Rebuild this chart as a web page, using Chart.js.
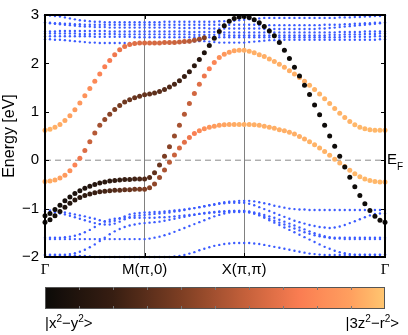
<!DOCTYPE html>
<html>
<head>
<meta charset="utf-8">
<script src="https://cdn.jsdelivr.net/npm/chart.js@4.4.1/dist/chart.umd.min.js"></script>
<style>
  html, body { margin: 0; padding: 0; background: #fff; }
  #wrap { width: 408px; height: 335px; }
</style>
</head>
<body>
<div id="wrap"><canvas id="bands" width="408" height="335"></canvas></div>
<script>
// k path Γ -> M(π,0) -> X(π,π) -> Γ, in units of π/a along the path
const kPath = [
  0, 0.05, 0.1, 0.15, 0.2, 0.25, 0.3, 0.35, 0.4, 0.45, 0.5, 0.55, 0.6, 0.65, 0.7, 0.75, 0.8, 0.85, 0.9, 0.95, 1.0,
  1.05, 1.1, 1.15, 1.2, 1.25, 1.3, 1.35, 1.4, 1.45, 1.5, 1.55, 1.6, 1.65, 1.7, 1.75, 1.8, 1.85, 1.9, 1.95, 2.0,
  2.0505, 2.101, 2.1515, 2.202, 2.2525, 2.303, 2.3535, 2.404, 2.4545, 2.505, 2.5555, 2.606, 2.6565, 2.707,
  2.7575, 2.808, 2.8585, 2.909, 2.9595, 3.0101, 3.0606, 3.1111, 3.1616, 3.2121, 3.2626, 3.3131, 3.3636, 3.4142
]
const kTickPos = [0, 1, 2, 3.4142]
const kTickLabels = ['Γ', 'M(π,0)', 'X(π,π)', 'Γ']
const energyTicks = [-2, -1, 0, 1, 2, 3]
const orbitalLabels = ['|x²−y²>', '|3z²−r²>']
const fermiLabel = ['E', 'F']

// e_g bands with orbital weight (0 = x2-y2, 1 = 3z2-r2)
const bandA = [
  -1.15, -1.1, -1.02, -0.93, -0.84, -0.76, -0.69, -0.63, -0.58, -0.54, -0.5, -0.47, -0.45, -0.43, -0.42, -0.41, -0.4, -0.4, -0.39, -0.39, -0.39,
  -0.36, -0.26, -0.1, 0.08, 0.28, 0.5, 0.72, 0.95, 1.17, 1.38, 1.57, 1.74, 1.89, 2.02, 2.12, 2.19, 2.23, 2.26, 2.27, 2.27,
  2.25, 2.22, 2.18, 2.14, 2.09, 2.04, 1.98, 1.92, 1.85, 1.78, 1.71, 1.63, 1.55, 1.46, 1.37, 1.27, 1.17, 1.07, 0.97, 0.88, 0.8, 0.73, 0.68, 0.65, 0.63, 0.62, 0.62, 0.62
]
const weightA = [
  0.02, 0.02, 0.03, 0.04, 0.05, 0.06, 0.07, 0.08, 0.09, 0.1, 0.11, 0.12, 0.14, 0.15, 0.17, 0.18, 0.2, 0.21, 0.23, 0.25, 0.27,
  0.29, 0.32, 0.35, 0.39, 0.43, 0.47, 0.51, 0.55, 0.59, 0.63, 0.67, 0.71, 0.75, 0.79, 0.83, 0.86, 0.89, 0.91, 0.93, 0.94,
  0.94, 0.94, 0.94, 0.94, 0.94, 0.94, 0.94, 0.94, 0.94, 0.94, 0.94, 0.94, 0.95, 0.95, 0.95, 0.95, 0.95, 0.95, 0.95, 0.95, 0.95, 0.96, 0.96, 0.96, 0.96, 0.96, 0.96, 0.96
]
const bandB = [
  -1.28, -1.23, -1.15, -1.06, -0.97, -0.89, -0.82, -0.77, -0.73, -0.7, -0.67, -0.65, -0.64, -0.63, -0.62, -0.62, -0.61, -0.61, -0.6, -0.6, -0.6,
  -0.57, -0.49, -0.36, -0.2, -0.04, 0.11, 0.25, 0.37, 0.47, 0.55, 0.61, 0.65, 0.68, 0.7, 0.72, 0.73, 0.74, 0.74, 0.74, 0.74,
  0.74, 0.73, 0.72, 0.7, 0.68, 0.66, 0.63, 0.61, 0.58, 0.54, 0.49, 0.44, 0.38, 0.32, 0.25, 0.18, 0.1, 0.02, -0.06, -0.13, -0.21, -0.28, -0.34, -0.39, -0.42, -0.44, -0.45, -0.45
]
const weightB = [
  0.02, 0.03, 0.04, 0.06, 0.08, 0.1, 0.12, 0.14, 0.16, 0.18, 0.2, 0.22, 0.24, 0.26, 0.28, 0.3, 0.32, 0.34, 0.36, 0.38, 0.4,
  0.42, 0.45, 0.48, 0.52, 0.56, 0.6, 0.64, 0.68, 0.72, 0.76, 0.8, 0.83, 0.86, 0.88, 0.9, 0.91, 0.92, 0.93, 0.94, 0.94,
  0.94, 0.94, 0.94, 0.94, 0.94, 0.94, 0.94, 0.94, 0.94, 0.94, 0.94, 0.94, 0.95, 0.95, 0.95, 0.95, 0.95, 0.95, 0.95, 0.95, 0.95, 0.96, 0.96, 0.96, 0.96, 0.96, 0.96, 0.96
]
const bandC = [
  -0.44, -0.43, -0.41, -0.37, -0.31, -0.22, -0.1, 0.04, 0.2, 0.38, 0.56, 0.72, 0.84, 0.95, 1.05, 1.13, 1.2, 1.25, 1.29, 1.32, 1.35,
  1.37, 1.39, 1.42, 1.46, 1.51, 1.57, 1.64, 1.73, 1.83, 1.95, 2.08, 2.22, 2.37, 2.52, 2.66, 2.78, 2.87, 2.93, 2.96, 2.97,
  2.95, 2.9, 2.84, 2.76, 2.67, 2.57, 2.43, 2.27, 2.1, 1.92, 1.74, 1.55, 1.36, 1.14, 0.94, 0.72, 0.5, 0.29, 0.08, -0.14, -0.35, -0.55, -0.73, -0.9, -1.04, -1.16, -1.24, -1.28
]
const weightC = [
  0.94, 0.93, 0.92, 0.9, 0.87, 0.83, 0.78, 0.72, 0.66, 0.6, 0.55, 0.5, 0.46, 0.43, 0.4, 0.38, 0.36, 0.35, 0.34, 0.33, 0.33,
  0.32, 0.31, 0.3, 0.29, 0.27, 0.25, 0.23, 0.2, 0.17, 0.14, 0.11, 0.08, 0.06, 0.05, 0.04, 0.03, 0.02, 0.02, 0.01, 0.01,
  0.01, 0.01, 0.01, 0.01, 0.01, 0.01, 0.01, 0.01, 0.01, 0.01, 0.01, 0.01, 0.01, 0.01, 0.01, 0.01, 0.01, 0.01, 0.01, 0.01, 0.01, 0.01, 0.01, 0.01, 0.02, 0.02, 0.02, 0.02
]
const bandD = [
  0.62, 0.64, 0.68, 0.74, 0.82, 0.92, 1.04, 1.18, 1.33, 1.48, 1.63, 1.78, 1.93, 2.06, 2.18, 2.28, 2.35, 2.39, 2.41, 2.42, 2.42,
  2.42, 2.42, 2.42, 2.43, 2.43, 2.43, 2.44, 2.45, 2.46, 2.48, 2.5, 2.53, null, null, null, null, null, null, null, null,
  null, null, null, null, null, null, null, null, null, null, null, null, null, null, null, null, null, null, null, null, null, null, null, null, null, null, null, null
]
const weightD = [
  0.95, 0.95, 0.94, 0.93, 0.92, 0.9, 0.88, 0.86, 0.84, 0.82, 0.8, 0.78, 0.76, 0.74, 0.72, 0.7, 0.69, 0.68, 0.67, 0.66, 0.65,
  0.65, 0.64, 0.64, 0.63, 0.62, 0.61, 0.6, 0.58, 0.56, 0.53, 0.48, 0.4, null, null, null, null, null, null, null, null,
  null, null, null, null, null, null, null, null, null, null, null, null, null, null, null, null, null, null, null, null, null, null, null, null, null, null, null, null
]

// other bands (blue)
const bandU1 = [
  2.99, 2.99, 2.98, 2.97, 2.95, 2.93, 2.91, 2.89, 2.88, 2.87, 2.86, 2.86, 2.85, 2.85, 2.85, 2.85, 2.85, 2.85, 2.85, 2.85, 2.85,
  2.85, 2.85, 2.85, 2.86, 2.86, 2.86, 2.86, 2.86, 2.86, 2.86, 2.86, 2.86, 2.86, 2.86, 2.87, 2.87, 2.88, 2.88, 2.89, 2.9,
  2.91, 2.92, 2.93, 2.94, 2.94, 2.94, 2.94, 2.94, 2.94, 2.94, 2.94, 2.94, 2.94, 2.94, 2.94, 2.94, 2.94, 2.94, 2.95, 2.95, 2.95, 2.96, 2.96, 2.97, 2.97, 2.98, 2.98, 2.99
]
const bandU2 = [
  2.84, 2.84, 2.83, 2.83, 2.82, 2.82, 2.81, 2.81, 2.8, 2.8, 2.8, 2.8, 2.8, 2.8, 2.8, 2.8, 2.8, 2.8, 2.8, 2.8, 2.8,
  2.8, 2.8, 2.8, 2.8, 2.8, 2.8, 2.8, 2.8, 2.8, 2.8, 2.8, 2.8, 2.8, 2.8, 2.8, 2.8, 2.8, 2.8, 2.8, 2.8,
  2.8, 2.8, 2.79, 2.79, 2.79, 2.79, 2.79, 2.79, 2.79, 2.79, 2.79, 2.79, 2.79, 2.79, 2.79, 2.8, 2.8, 2.8, 2.8, 2.81, 2.81, 2.82, 2.82, 2.83, 2.83, 2.84, 2.84, 2.84
]
const bandU3 = [
  2.84, 2.83, 2.82, 2.81, 2.8, 2.79, 2.78, 2.77, 2.76, 2.76, 2.75, 2.75, 2.75, 2.74, 2.74, 2.74, 2.74, 2.74, 2.74, 2.74, 2.74,
  2.74, 2.74, 2.74, 2.74, 2.74, 2.74, 2.73, 2.73, 2.73, 2.73, 2.73, 2.73, 2.72, 2.72, 2.72, 2.72, 2.72, 2.72, 2.72, 2.72,
  2.72, 2.72, 2.72, 2.71, 2.71, 2.71, 2.71, 2.71, 2.71, 2.71, 2.71, 2.71, 2.71, 2.71, 2.72, 2.72, 2.73, 2.74, 2.75, 2.76, 2.77, 2.78, 2.79, 2.8, 2.81, 2.82, 2.83, 2.84
]
const bandU4 = [
  2.66, 2.66, 2.66, 2.67, 2.67, 2.67, 2.67, 2.67, 2.67, 2.67, 2.67, 2.67, 2.67, 2.66, 2.66, 2.66, 2.66, 2.66, 2.66, 2.66, 2.66,
  2.66, 2.66, 2.66, 2.66, 2.66, 2.66, 2.66, 2.66, 2.65, 2.65, 2.65, 2.65, 2.65, 2.65, 2.65, 2.64, 2.64, 2.64, 2.64, 2.64,
  2.64, 2.64, 2.64, 2.64, 2.64, 2.64, 2.64, 2.64, 2.64, 2.64, 2.64, 2.64, 2.64, 2.64, 2.64, 2.64, 2.64, 2.64, 2.65, 2.65, 2.65, 2.65, 2.65, 2.66, 2.66, 2.66, 2.66, 2.66
]
const bandU5 = [
  2.62, 2.62, 2.62, 2.62, 2.62, 2.62, 2.62, 2.61, 2.61, 2.61, 2.61, 2.61, 2.61, 2.61, 2.61, 2.6, 2.6, 2.6, 2.6, 2.6, 2.6,
  2.6, 2.6, 2.6, 2.6, 2.6, 2.6, 2.6, 2.6, 2.6, 2.59, 2.59, 2.59, 2.59, 2.59, 2.59, 2.59, 2.58, 2.58, 2.58, 2.58,
  2.58, 2.58, 2.58, 2.58, 2.58, 2.58, 2.58, 2.58, 2.58, 2.58, 2.58, 2.58, 2.58, 2.58, 2.58, 2.58, 2.59, 2.59, 2.59, 2.6, 2.6, 2.6, 2.6, 2.61, 2.61, 2.61, 2.62, 2.62
]
const bandU6 = [
  2.56, 2.56, 2.56, 2.56, 2.56, 2.56, 2.56, 2.56, 2.56, 2.56, 2.55, 2.55, 2.55, 2.55, 2.55, 2.55, 2.55, 2.55, 2.54, 2.54, 2.54,
  2.54, 2.54, 2.54, 2.54, 2.54, 2.54, 2.54, 2.54, 2.54, 2.54, 2.54, 2.54, 2.54, 2.54, 2.54, 2.54, 2.54, 2.54, 2.54, 2.54,
  2.54, 2.54, 2.54, 2.54, 2.54, 2.54, 2.54, 2.54, 2.54, 2.54, 2.54, 2.54, 2.54, 2.54, 2.54, 2.54, 2.54, 2.54, 2.54, 2.55, 2.55, 2.55, 2.55, 2.55, 2.55, 2.56, 2.56, 2.56
]
const bandU7 = [
  2.5, 2.5, 2.49, 2.49, 2.48, 2.47, 2.46, 2.45, 2.44, 2.43, 2.43, 2.42, 2.42, 2.42, 2.42, 2.42, 2.42, 2.42, 2.42, 2.42, 2.42,
  2.42, 2.42, 2.42, 2.42, 2.42, 2.43, 2.43, 2.43, 2.44, 2.45, 2.46, 2.46, 2.45, 2.44, 2.43, 2.43, 2.43, 2.43, 2.43, 2.43,
  2.44, 2.45, 2.46, 2.47, 2.48, 2.48, 2.49, 2.49, 2.49, 2.49, 2.49, 2.49, 2.49, 2.49, 2.49, 2.49, 2.49, 2.49, 2.49, 2.49, 2.49, 2.49, 2.49, 2.49, 2.49, 2.49, 2.5, 2.5
]
const bandL1 = [
  -1.03, -1.04, -1.05, -1.06, -1.08, -1.1, -1.12, -1.14, -1.16, -1.19, -1.21, -1.24, -1.26, -1.27, -1.25, -1.21, -1.16, -1.12, -1.1, -1.09, -1.08,
  -1.08, -1.07, -1.07, -1.06, -1.05, -1.04, -1.03, -1.02, -1.0, -0.99, -0.97, -0.95, -0.93, -0.91, -0.89, -0.87, -0.86, -0.85, -0.84, -0.84,
  -0.84, -0.85, -0.87, -0.89, -0.91, -0.94, -0.96, -0.98, -1.0, -1.01, -1.02, -1.02, -1.03, -1.03, -1.03, -1.03, -1.03, -1.03, -1.03, -1.03, -1.03, -1.03, -1.03, -1.03, -1.03, -1.03, -1.03, -1.03
]
const bandL2 = [
  -1.06, -1.07, -1.08, -1.1, -1.12, -1.15, -1.18, -1.21, -1.24, -1.27, -1.3, -1.32, -1.33, -1.33, -1.31, -1.27, -1.22, -1.18, -1.15, -1.14, -1.13,
  -1.12, -1.11, -1.1, -1.09, -1.08, -1.06, -1.05, -1.03, -1.01, -0.99, -0.97, -0.95, -0.93, -0.92, -0.9, -0.89, -0.88, -0.88, -0.88, -0.88,
  -0.9, -0.93, -0.97, -1.01, -1.05, -1.09, -1.13, -1.17, -1.21, -1.25, -1.28, -1.31, -1.34, -1.36, -1.38, -1.39, -1.4, -1.39, -1.37, -1.34, -1.3, -1.26, -1.22, -1.18, -1.14, -1.11, -1.1, -1.1
]
const bandL3 = [
  -1.6, -1.6, -1.6, -1.6, -1.59, -1.58, -1.56, -1.53, -1.49, -1.44, -1.38, -1.32, -1.27, -1.23, -1.21, -1.2, -1.19, -1.19, -1.19, -1.19, -1.19,
  -1.19, -1.19, -1.18, -1.18, -1.17, -1.16, -1.15, -1.14, -1.13, -1.12, -1.11, -1.1, -1.09, -1.08, -1.07, -1.06, -1.06, -1.05, -1.05, -1.05,
  -1.06, -1.08, -1.1, -1.13, -1.16, -1.19, -1.23, -1.27, -1.31, -1.35, -1.39, -1.43, -1.47, -1.51, -1.54, -1.57, -1.59, -1.6, -1.6, -1.6, -1.6, -1.6, -1.6, -1.6, -1.6, -1.6, -1.6, -1.6
]
const bandL4 = [
  -1.63, -1.63, -1.63, -1.63, -1.63, -1.63, -1.63, -1.63, -1.63, -1.63, -1.63, -1.63, -1.63, -1.63, -1.63, -1.63, -1.63, -1.63, -1.63, -1.63, -1.63,
  -1.62, -1.6, -1.58, -1.55, -1.52, -1.48, -1.44, -1.4, -1.36, -1.32, -1.28, -1.24, -1.2, -1.16, -1.13, -1.1, -1.08, -1.07, -1.07, -1.07,
  -1.08, -1.1, -1.13, -1.17, -1.21, -1.25, -1.29, -1.33, -1.37, -1.41, -1.45, -1.49, -1.52, -1.55, -1.57, -1.59, -1.61, -1.62, -1.62, -1.63, -1.63, -1.63, -1.63, -1.63, -1.63, -1.63, -1.63, -1.63
]
const bandL5 = [
  -1.95, -1.95, -1.95, -1.95, -1.95, -1.94, -1.92, -1.89, -1.85, -1.8, -1.74, -1.67, -1.6, -1.53, -1.47, -1.42, -1.38, -1.35, -1.33, -1.31, -1.3,
  -1.29, -1.28, -1.27, -1.25, -1.23, -1.21, -1.19, -1.17, -1.15, -1.13, -1.11, -1.09, -1.08, -1.07, -1.06, -1.06, -1.05, -1.05, -1.05, -1.05,
  -1.07, -1.1, -1.14, -1.19, -1.24, -1.29, -1.34, -1.39, -1.44, -1.49, -1.54, -1.59, -1.64, -1.69, -1.74, -1.79, -1.83, -1.87, -1.9, -1.92, -1.94, -1.95, -1.95, -1.95, -1.95, -1.95, -1.95, -1.95
]
const bandL6 = [
  -1.97, -1.97, -1.97, -1.97, -1.97, -1.97, -1.97, -1.98, -1.98, -1.99, -2.0, -2.0, -2.0, -2.0, -2.0, -2.0, -2.0, -2.0, -2.0, -2.0, -2.0,
  -2.0, -2.0, -2.0, -2.0, -2.0, -1.99, -1.98, -1.96, -1.93, -1.9, -1.86, -1.83, -1.8, -1.77, -1.75, -1.73, -1.72, -1.71, -1.71, -1.71,
  -1.71, -1.72, -1.73, -1.75, -1.77, -1.79, -1.81, -1.83, -1.85, -1.87, -1.89, -1.91, -1.93, -1.94, -1.95, -1.96, -1.96, -1.96, -1.96, -1.96, -1.96, -1.96, -1.96, -1.96, -1.96, -1.96, -1.96, -1.96
]

// colour map black -> copper -> light orange
const cmapStops = [
  [0, [12, 10, 8]], [0.2, [55, 30, 18]], [0.4, [125, 62, 35]], [0.6, [200, 98, 60]],
  [0.75, [250, 125, 82]], [0.9, [255, 160, 95]], [1, [255, 198, 112]]
]
const cmap = (w) => {
  for (let i = 1; i < cmapStops.length; i++) {
    const [t1, c1] = cmapStops[i]
    const [t0, c0] = cmapStops[i - 1]
    if (w <= t1) {
      const f = (w - t0) / (t1 - t0)
      const c = c0.map((v, j) => Math.round(v + (c1[j] - v) * f))
      return `rgb(${c[0]},${c[1]},${c[2]})`
    }
  }
  const c = cmapStops[cmapStops.length - 1][1]
  return `rgb(${c[0]},${c[1]},${c[2]})`
}

const coloredBands = [[bandC, weightC], [bandA, weightA], [bandB, weightB], [bandD, weightD]]
const blueBands = [bandU1, bandU2, bandU3, bandU4, bandU5, bandU6, bandU7, bandL1, bandL2, bandL3, bandL4, bandL5, bandL6]

const datasets = []
coloredBands.forEach(([E, W]) => {
  datasets.push({
    data: kPath.map((k, i) => ({ x: k, y: E[i], w: W[i] })).filter((p) => p.y !== null),
    pointRadius: 2.5,
    pointBorderWidth: 0,
    pointBackgroundColor: (ctx) => cmap(ctx.raw ? ctx.raw.w : 0),
    clip: 4,
  })
})
blueBands.forEach((E) => {
  datasets.push({
    data: kPath.map((k, i) => ({ x: k, y: E[i] })),
    pointRadius: 1.2,
    pointBorderWidth: 0,
    pointBackgroundColor: '#3b5bff',
    clip: 3,
  })
})
// Fermi level
datasets.push({
  type: 'line',
  data: [{ x: kPath[0], y: 0 }, { x: kPath[kPath.length - 1], y: 0 }],
  borderColor: '#8a8a8a',
  borderWidth: 1,
  borderDash: [6, 4],
  pointRadius: 0,
})

const framePlugin = {
  id: 'frame',
  afterDraw(chart) {
    const { ctx, chartArea: ca, scales } = chart
    ctx.save()
    ctx.strokeStyle = '#000'
    ctx.lineWidth = 1
    ctx.beginPath()
    energyTicks.forEach((v) => {
      const y = Math.round(scales.y.getPixelForValue(v)) + 0.5
      ctx.moveTo(ca.left, y); ctx.lineTo(ca.left + 4, y)
      ctx.moveTo(ca.right - 4, y); ctx.lineTo(ca.right, y)
    })
    kTickPos.slice(1, 3).forEach((v) => {
      const x = Math.round(scales.x.getPixelForValue(v)) + 0.5
      ctx.moveTo(x, ca.bottom); ctx.lineTo(x, ca.bottom - 4)
      ctx.moveTo(x, ca.top); ctx.lineTo(x, ca.top + 4)
    })
    ctx.stroke()
    ctx.lineWidth = 2
    ctx.strokeRect(ca.left, ca.top, ca.right - ca.left, ca.bottom - ca.top)

    // E_F label
    const y0 = scales.y.getPixelForValue(0)
    ctx.fillStyle = '#000'
    ctx.textBaseline = 'alphabetic'
    ctx.textAlign = 'left'
    ctx.font = '15px "Liberation Sans"'
    ctx.fillText(fermiLabel[0], ca.right + 2, y0 + 4)
    const ew = ctx.measureText(fermiLabel[0]).width
    ctx.font = '10px "Liberation Sans"'
    ctx.fillText(fermiLabel[1], ca.right + 2 + ew, y0 + 10)

    // colour bar
    const top = ca.bottom + 30, h = 22, w = ca.right - ca.left
    const grad = ctx.createLinearGradient(ca.left, 0, ca.right, 0)
    for (let i = 0; i <= 40; i++) grad.addColorStop(i / 40, cmap(i / 40))
    ctx.fillStyle = grad
    ctx.fillRect(ca.left, top, w, h)
    ctx.strokeStyle = '#555'
    ctx.lineWidth = 1
    ctx.strokeRect(ca.left + 0.5, top + 0.5, w - 1, h - 1)
    ctx.strokeStyle = '#777'
    ctx.beginPath()
    for (let i = 1; i < 10; i++) {
      const x = Math.round(ca.left + (w * i) / 10) + 0.5
      ctx.moveTo(x, top); ctx.lineTo(x, top + 3)
      ctx.moveTo(x, top + h); ctx.lineTo(x, top + h - 3)
    }
    ctx.stroke()

    // orbital labels with superscripts
    const drawLabel = (text, x, y, align) => {
      const parts = [...text]
      const widthOf = (c) => {
        ctx.font = c === '²' ? '10px "Liberation Sans"' : '15px "Liberation Sans"'
        return ctx.measureText(c === '²' ? '2' : c).width
      }
      const total = parts.reduce((s, c) => s + widthOf(c), 0)
      let cx = align === 'right' ? x - total : x
      ctx.fillStyle = '#000'
      ctx.textAlign = 'left'
      parts.forEach((c) => {
        const cw = widthOf(c)
        ctx.fillText(c === '²' ? '2' : c, cx, c === '²' ? y - 6 : y)
        cx += cw
      })
    }
    drawLabel(orbitalLabels[0], ca.left, top + h + 19, 'left')
    drawLabel(orbitalLabels[1], ca.right + 14, top + h + 19, 'right')
    ctx.restore()
  },
}

new Chart(document.getElementById('bands'), {
  type: 'scatter',
  data: { datasets },
  options: {
    responsive: false,
    animation: false,
    devicePixelRatio: 1,
    layout: { padding: { top: 12, right: 23, bottom: 56, left: 0 } },
    plugins: { legend: { display: false }, tooltip: { enabled: false } },
    scales: {
      x: {
        type: 'linear',
        min: 0,
        max: kPath[kPath.length - 1],
        afterBuildTicks: (s) => { s.ticks = kTickPos.map((v) => ({ value: v })) },
        afterFit: (s) => { s.height = 22 },
        ticks: {
          autoSkip: false,
          maxRotation: 0,
          padding: 4,
          color: '#000',
          callback: (v, i) => kTickLabels[i],
          font: (ctx) => ({
            family: ctx.index === 1 || ctx.index === 2 ? 'Liberation Sans' : 'Liberation Serif',
            size: 15,
          }),
        },
        grid: {
          drawTicks: false,
          lineWidth: 1,
          color: (ctx) => (ctx.index === 1 || ctx.index === 2 ? '#808080' : 'rgba(0,0,0,0)'),
        },
        border: { display: false },
      },
      y: {
        min: -2,
        max: 3,
        afterBuildTicks: (s) => { s.ticks = energyTicks.map((v) => ({ value: v })) },
        afterFit: (s) => { s.width = 45 },
        ticks: {
          color: '#000',
          padding: 6,
          font: { family: 'Liberation Sans', size: 15 },
          callback: (v) => (v < 0 ? '\u2212' + Math.abs(v) : String(v)),
        },
        grid: { display: false, drawTicks: false },
        border: { display: false },
        title: {
          display: true,
          text: 'Energy [eV]',
          color: '#000',
          font: { family: 'Liberation Sans', size: 16 },
          padding: { top: 0, bottom: 0 },
        },
      },
    },
  },
  plugins: [framePlugin],
})
</script>
</body>
</html>
